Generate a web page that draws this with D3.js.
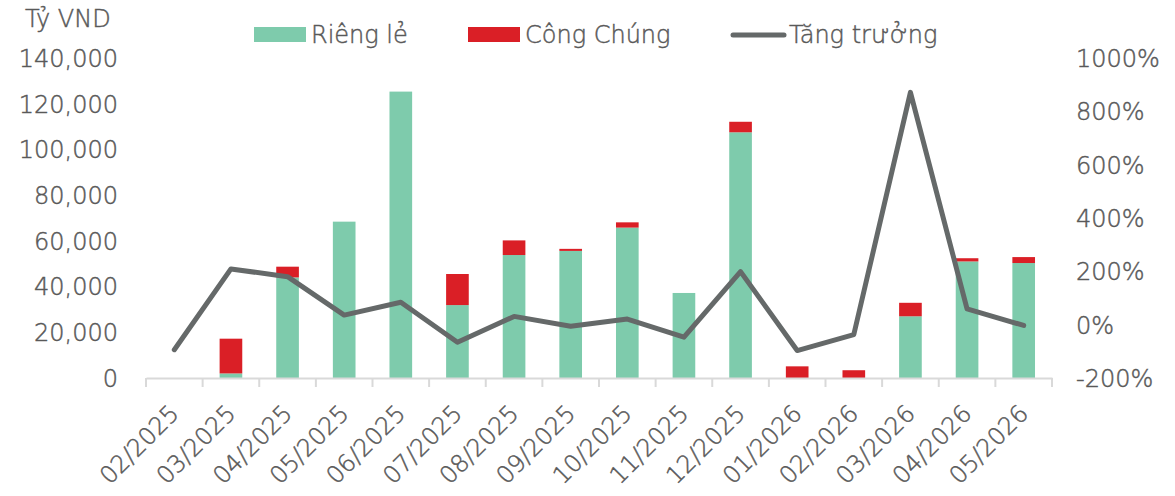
<!DOCTYPE html>
<html>
<head>
<meta charset="utf-8">
<script src="https://cdn.jsdelivr.net/npm/d3@7"></script>
<style>
  html, body { margin: 0; padding: 0; background: #fff; }
  svg text { font-family: "DejaVu Sans", sans-serif; font-weight: 200; fill: #595959; stroke: #595959; stroke-width: 0.45px; }
</style>
</head>
<body>
<svg id="chart" width="1175" height="496"></svg>
<script>
const categories = ["02/2025","03/2025","04/2025","05/2025","06/2025","07/2025","08/2025","09/2025","10/2025","11/2025","12/2025","01/2026","02/2026","03/2026","04/2026","05/2026"];
const riengLe   = [0, 2000, 44000, 68400, 125300, 31900, 53800, 55600, 65800, 37200, 107500, 0, 0, 27000, 51000, 50300];
const congChung = [0, 15200, 4700, 0, 0, 13600, 6400, 900, 2300, 0, 4600, 5100, 3400, 5900, 1400, 2600];
const tangTruong = [-94, 209, 180, 36, 84, -66, 31, -6, 21, -47, 199, -97, -37, 871, 59, -3];
const leftTicks = [0, 20000, 40000, 60000, 80000, 100000, 120000, 140000];
const rightTicks = [-200, 0, 200, 400, 600, 800, 1000];
const seriesNames = ["Riêng lẻ", "Công Chúng", "Tăng trưởng"];
const colors = { green: "#7ecbac", red: "#da1f26", line: "#656969", axis: "#d9d9d9" };

const svg = d3.select("#chart");
const x0 = 146, x1 = 1052, yTop = 58, yBot = 378;

const x = d3.scaleBand().domain(categories).range([x0, x1]).padding(0);
const y = d3.scaleLinear().domain([0, 140000]).range([yBot, yTop]);
const y2 = d3.scaleLinear().domain([-200, 1000]).range([yBot, yTop]);
const barW = x.bandwidth() * 0.4;
const cx = d => x(d) + x.bandwidth() / 2;

// bars
const g = svg.append("g");
categories.forEach((c, i) => {
  const a = riengLe[i], b = congChung[i];
  if (a > 0) g.append("rect").attr("x", cx(c) - barW/2).attr("width", barW)
    .attr("y", y(a)).attr("height", y(0) - y(a)).attr("fill", colors.green);
  if (b > 0) g.append("rect").attr("x", cx(c) - barW/2).attr("width", barW)
    .attr("y", y(a + b)).attr("height", y(a) - y(a + b)).attr("fill", colors.red);
});

// x axis
const xAxis = d3.axisBottom(x).tickSize(0).tickFormat("");
const ax = svg.append("g").attr("transform", `translate(0,${yBot})`).call(xAxis);
ax.select(".domain").attr("stroke", colors.axis).attr("stroke-width", 2);
const bounds = categories.map(c => x(c)).concat([x1]);
ax.selectAll(".bt").data(bounds).enter().append("line")
  .attr("x1", d => d).attr("x2", d => d).attr("y1", 0).attr("y2", 9)
  .attr("stroke", colors.axis).attr("stroke-width", 2);
ax.selectAll(".xl").data(categories).enter().append("text")
  .attr("transform", d => `translate(${cx(d) + 6},${37}) rotate(-45)`)
  .attr("text-anchor", "end").attr("font-size", 24).text(d => d);

// left axis
const yAxis = d3.axisLeft(y).tickValues(leftTicks).tickSize(0).tickFormat(d3.format(","));
const ay = svg.append("g").attr("transform", `translate(118,0)`).call(yAxis);
ay.select(".domain").remove();
ay.selectAll("text").attr("font-size", 24).attr("fill", "#595959").attr("dy", "0.35em").attr("x", 0)
  .style("font-family", "'DejaVu Sans', sans-serif");

// right axis
const yAxis2 = d3.axisRight(y2).tickValues(rightTicks).tickSize(0).tickFormat(d => d + "%");
const ay2 = svg.append("g").attr("transform", `translate(1076,0)`).call(yAxis2);
ay2.select(".domain").remove();
ay2.selectAll("text").attr("font-size", 24).attr("fill", "#595959").attr("dy", "0.35em").attr("x", 0)
  .style("font-family", "'DejaVu Sans', sans-serif");

// line
const line = d3.line().x((d, i) => cx(categories[i])).y(d => y2(d));
svg.append("path").datum(tangTruong).attr("d", line).attr("fill", "none")
  .attr("stroke", colors.line).attr("stroke-width", 5)
  .attr("stroke-linejoin", "round").attr("stroke-linecap", "round");

// unit label
svg.append("text").attr("x", 25).attr("y", 27).attr("font-size", 24).text("Tỷ VND");

// legend
const lg = svg.append("g");
lg.append("rect").attr("x", 254).attr("y", 27).attr("width", 52).attr("height", 15).attr("fill", colors.green);
lg.append("text").attr("x", 311).attr("y", 43).attr("font-size", 24).text(seriesNames[0]);
lg.append("rect").attr("x", 468).attr("y", 27).attr("width", 52).attr("height", 15).attr("fill", colors.red);
lg.append("text").attr("x", 525).attr("y", 43).attr("font-size", 24).text(seriesNames[1]);
lg.append("line").attr("x1", 733).attr("x2", 784).attr("y1", 35).attr("y2", 35)
  .attr("stroke", colors.line).attr("stroke-width", 5).attr("stroke-linecap", "round");
lg.append("text").attr("x", 789).attr("y", 43).attr("font-size", 24).text(seriesNames[2]);
</script>
</body>
</html>
